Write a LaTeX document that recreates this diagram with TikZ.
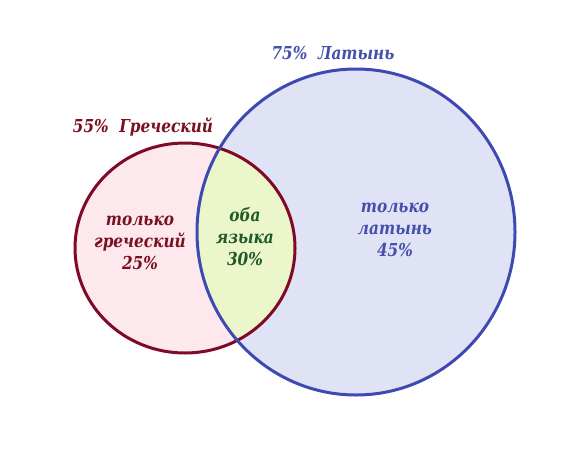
\documentclass[tikz,border=0pt]{standalone}
\usepackage{fontspec}
\setmainfont{DejaVu Serif}
\newfontfamily\lblfont[FakeStretch=0.86]{DejaVu Serif}
\definecolor{redline}{HTML}{7F0A25}
\definecolor{redfill}{HTML}{FDE8EE}
\definecolor{blueline}{HTML}{3F49B2}
\definecolor{bluefill}{HTML}{E0E3F6}
\definecolor{greenfill}{HTML}{ECF6CB}
\definecolor{redtext}{HTML}{7A1020}
\definecolor{greentext}{HTML}{1F5A2A}
\definecolor{bluetext}{HTML}{4650AA}
\begin{document}
\begin{tikzpicture}[x=1pt,y=-1pt,
  lbl/.style={font=\lblfont\fontsize{17.8}{22}\selectfont\bfseries\itshape, align=center, inner sep=0pt},
  ring/.style={line width=3pt}]
\useasboundingbox (0,0) rectangle (577,463);
\fill[white] (0,0) rectangle (577,463);
\coordinate (rc) at (185,248);
\coordinate (bc) at (356,232);
\fill[redfill] (rc) ellipse [x radius=110, y radius=105];
\fill[bluefill] (bc) ellipse [x radius=159, y radius=163];
\begin{scope}
  \clip (rc) ellipse [x radius=110, y radius=105];
  \fill[greenfill] (bc) ellipse [x radius=159, y radius=163];
\end{scope}
\draw[ring, redline] (rc) ellipse [x radius=110, y radius=105];
\draw[ring, blueline] (bc) ellipse [x radius=159, y radius=163];
\node[lbl, text=redtext] (gt) at (143,127) {55\%\ \ Греческий};
\node[lbl, text=bluetext] (lt) at (333,53) {75\%\ \ Латынь};
\node[lbl, text=redtext] (go) at (140,243) {только\\греческий\\25\%};
\node[lbl, text=greentext] (both) at (245,237) {оба\\языка\\30\%};
\node[lbl, text=bluetext] (lo) at (395,230) {только\\латынь\\45\%};
\end{tikzpicture}
\end{document}
